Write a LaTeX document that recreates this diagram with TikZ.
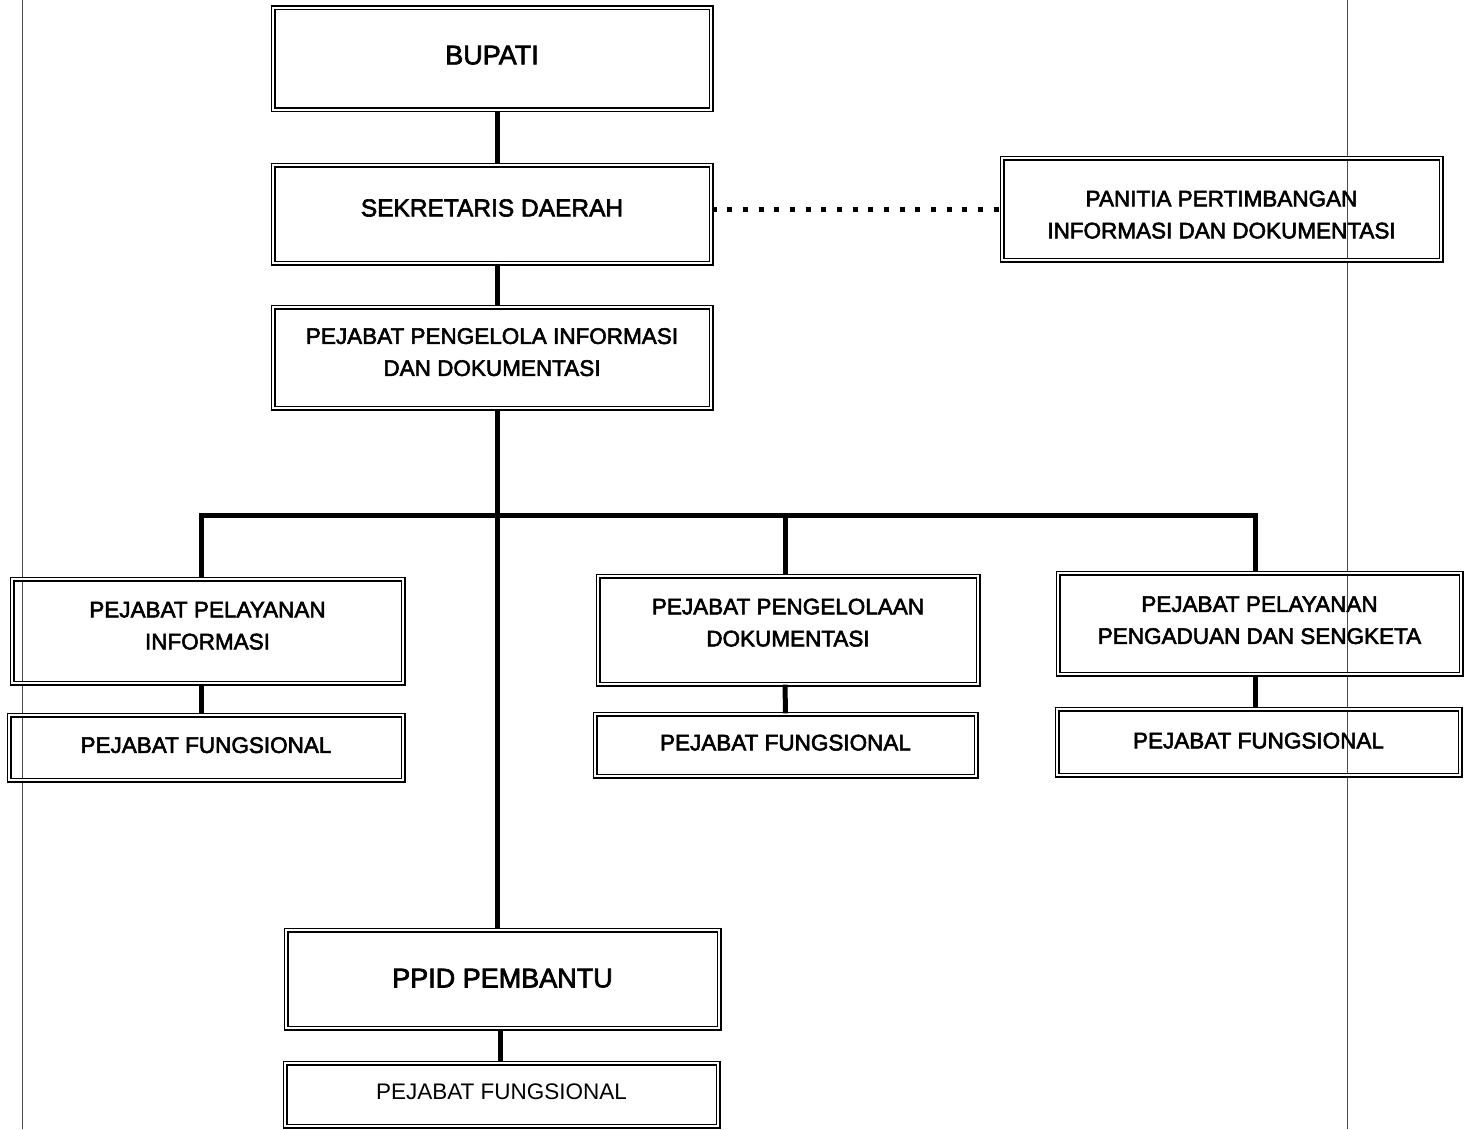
\documentclass[tikz,border=0pt]{standalone}
\usepackage{fontspec}
\setmainfont{Liberation Sans}
\newfontfamily\heavy{Liberation Sans}[FakeBold=2.5]
\newcommand\bx[2]{\raisebox{#1}[\height][\depth]{\begin{tabular}{@{}c@{}}#2\end{tabular}}}
\begin{document}
\begin{tikzpicture}[x=1pt,y=-1pt,
  box/.style={draw=black, line width=1.3pt, double=white, double distance=2.4pt,
    inner sep=0pt, font=\heavy\fontsize{22.5}{32}\selectfont},
  conn/.style={draw=black, line width=5pt, line join=miter},
  dotline/.style={draw=black, line width=5pt, dash pattern=on 5pt off 10.67pt},
  margin/.style={draw=black!70, line width=0.8pt}]
\useasboundingbox (0,0) rectangle (1471,1129);
% scan margin lines
\draw[margin] (22,0) -- (22,1129);
\draw[margin] (1347,0) -- (1347,1129);
% boxes
\node[box, minimum width=438pt, minimum height=102pt, font=\heavy\fontsize{27}{32}\selectfont] (bup) at (492,59) {\bx{1pt}{BUPATI}};
\node[box, minimum width=438pt, minimum height=98pt, font=\heavy\fontsize{24.5}{32}\selectfont] (sek) at (492,214) {\bx{4pt}{SEKRETARIS DAERAH}};
\node[box, minimum width=439pt, minimum height=102pt] (pan) at (1221.5,209) {\bx{-7pt}{PANITIA PERTIMBANGAN\\INFORMASI DAN DOKUMENTASI}};
\node[box, minimum width=438pt, minimum height=101pt] (ppid) at (492,357.5) {\bx{4pt}{PEJABAT PENGELOLA INFORMASI\\DAN DOKUMENTASI}};
\node[box, minimum width=391pt, minimum height=104pt] (ppi) at (207.5,631) {\bx{4pt}{PEJABAT PELAYANAN\\INFORMASI}};
\node[box, minimum width=394pt, minimum height=65pt] (pf1) at (206,747.5) {\bx{1pt}{PEJABAT FUNGSIONAL}};
\node[box, minimum width=380pt, minimum height=108pt] (ppd) at (788,630) {\bx{6pt}{PEJABAT PENGELOLAAN\\DOKUMENTASI}};
\node[box, minimum width=381pt, minimum height=62pt] (pf2) at (785.5,745) {\bx{1pt}{PEJABAT FUNGSIONAL}};
\node[box, minimum width=403pt, minimum height=101pt] (pps) at (1259.5,623.5) {\bx{2pt}{PEJABAT PELAYANAN\\PENGADUAN DAN SENGKETA}};
\node[box, minimum width=403pt, minimum height=66pt] (pf3) at (1258.5,742) {\bx{0pt}{PEJABAT FUNGSIONAL}};
\node[box, minimum width=433pt, minimum height=98pt, font=\heavy\fontsize{27}{32}\selectfont] (pemb) at (502.5,979) {\bx{-2pt}{PPID PEMBANTU}};
\node[box, minimum width=433pt, minimum height=63pt, font=\fontsize{22.5}{32}\selectfont] (pf4) at (501.5,1094.5) {\bx{1pt}{PEJABAT FUNGSIONAL}};
% connectors
\draw[conn] ([xshift=5pt]bup.south) -- ([xshift=5pt]sek.north);
\draw[conn] ([xshift=5pt]sek.south) -- ([xshift=5pt]ppid.north);
\draw[conn] ([xshift=5pt]ppid.south) -- ([xshift=-5.5pt]pemb.north);
\coordinate (bl) at (201,515);
\coordinate (br) at (1255,515);
\draw[conn] ([xshift=-6.5pt]ppi.north) -- (bl) -- (br) -- ([xshift=-4.5pt]pps.north);
\path ([xshift=-3pt]ppd.north) coordinate (ppdt);
\draw[conn] (ppdt) -- (ppdt |- bl);
\draw[conn] ([xshift=-6.5pt]ppi.south) -- ([xshift=-5pt]pf1.north);
\draw[conn] ([xshift=-3pt]ppd.south) -- (pf2.north);
\draw[conn] ([xshift=-4.5pt]pps.south) -- ([xshift=-3.5pt]pf3.north);
\draw[conn] ([xshift=-2.5pt]pemb.south) -- ([xshift=-1.5pt]pf4.north);
\draw[dotline] (sek.east |- pan.west) -- (pan.west);
\end{tikzpicture}
\end{document}
